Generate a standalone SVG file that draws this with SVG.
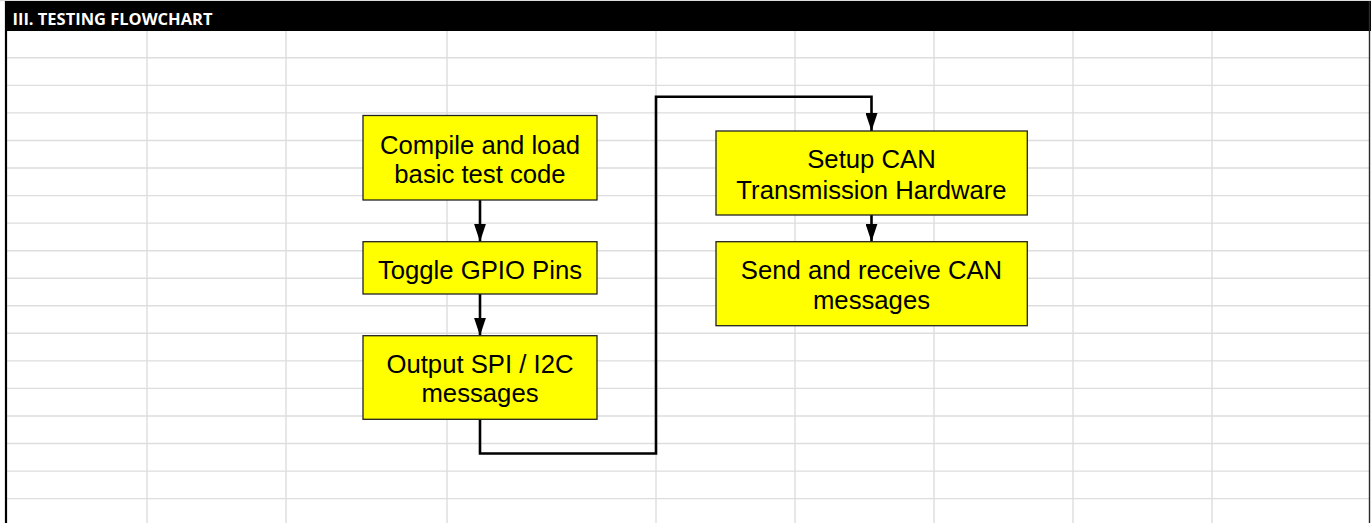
<svg xmlns="http://www.w3.org/2000/svg" width="1371" height="523" viewBox="0 0 1371 523">
<style>
.grid{stroke:#dddddd;stroke-width:1.4;fill:none}
.box{fill:#ffff00;stroke:#222222;stroke-width:1.3}
.lbl{font-family:"Liberation Sans",Arial,sans-serif;font-size:25.7px;fill:#000;text-anchor:middle}
.conn{stroke:#000;stroke-width:2.6;fill:none}
.hdr{font-family:"Open Sans","Liberation Sans",sans-serif;font-weight:bold;font-size:16.5px;fill:#fff}
</style>
<defs>
<marker id="ah" markerUnits="userSpaceOnUse" markerWidth="18" markerHeight="12" refX="18" refY="6" viewBox="0 0 18 12" orient="auto">
<path d="M0,0 L18,6 L0,12 Z" fill="#000"/>
</marker>
</defs>
<rect x="0" y="0" width="1371" height="523" fill="#ffffff"/>
<g id="grid">
<line class="grid" x1="0" y1="0.5" x2="1371" y2="0.5"/>
<g>
<line class="grid" x1="147" y1="31" x2="147" y2="523"/>
<line class="grid" x1="286" y1="31" x2="286" y2="523"/>
<line class="grid" x1="447" y1="31" x2="447" y2="523"/>
<line class="grid" x1="656" y1="31" x2="656" y2="523"/>
<line class="grid" x1="795" y1="31" x2="795" y2="523"/>
<line class="grid" x1="934" y1="31" x2="934" y2="523"/>
<line class="grid" x1="1073" y1="31" x2="1073" y2="523"/>
<line class="grid" x1="1212" y1="31" x2="1212" y2="523"/>
</g>
<g>
<line class="grid" x1="7" y1="57.8" x2="1369" y2="57.8"/>
<line class="grid" x1="7" y1="85.4" x2="1369" y2="85.4"/>
<line class="grid" x1="7" y1="112.9" x2="1369" y2="112.9"/>
<line class="grid" x1="7" y1="140.5" x2="1369" y2="140.5"/>
<line class="grid" x1="7" y1="168" x2="1369" y2="168"/>
<line class="grid" x1="7" y1="195.6" x2="1369" y2="195.6"/>
<line class="grid" x1="7" y1="223.1" x2="1369" y2="223.1"/>
<line class="grid" x1="7" y1="250.7" x2="1369" y2="250.7"/>
<line class="grid" x1="7" y1="278.2" x2="1369" y2="278.2"/>
<line class="grid" x1="7" y1="305.8" x2="1369" y2="305.8"/>
<line class="grid" x1="7" y1="333.3" x2="1369" y2="333.3"/>
<line class="grid" x1="7" y1="360.9" x2="1369" y2="360.9"/>
<line class="grid" x1="7" y1="388.4" x2="1369" y2="388.4"/>
<line class="grid" x1="7" y1="416" x2="1369" y2="416"/>
<line class="grid" x1="7" y1="443.5" x2="1369" y2="443.5"/>
<line class="grid" x1="7" y1="471.1" x2="1369" y2="471.1"/>
<line class="grid" x1="7" y1="498.6" x2="1369" y2="498.6"/>
</g>
</g>
<g id="frame">
<rect x="5" y="1" width="1366" height="30" fill="#000"/>
<line x1="6" y1="1" x2="6" y2="523" stroke="#000" stroke-width="2.2"/>
<line x1="1369.5" y1="1" x2="1369.5" y2="523" stroke="#2a2a2a" stroke-width="1.4"/>
<text class="hdr" x="12.5" y="25" textLength="200" lengthAdjust="spacingAndGlyphs">III. TESTING FLOWCHART</text>
</g>
<g id="connectors">
<line class="conn" x1="480" y1="200" x2="480" y2="241.7" marker-end="url(#ah)"/>
<line class="conn" x1="480" y1="294" x2="480" y2="335.7" marker-end="url(#ah)"/>
<polyline class="conn" points="480,419.3 480,453.5 656,453.5 656,96.8 871.5,96.8 871.5,131" marker-end="url(#ah)"/>
<line class="conn" x1="871.5" y1="215" x2="871.5" y2="241.7" marker-end="url(#ah)"/>
</g>
<g id="n1">
<rect class="box" x="363" y="115.5" width="234" height="84.5"/>
<text class="lbl" x="480" y="153.5">Compile and load</text>
<text class="lbl" x="480" y="183">basic test code</text>
</g>
<g id="n2">
<rect class="box" x="363" y="241.7" width="234" height="52.3"/>
<text class="lbl" x="480" y="278.5">Toggle GPIO Pins</text>
</g>
<g id="n3">
<rect class="box" x="363" y="335.7" width="234" height="83.6"/>
<text class="lbl" x="480" y="372.5">Output SPI / I2C</text>
<text class="lbl" x="480" y="402">messages</text>
</g>
<g id="n4">
<rect class="box" x="716" y="131" width="311.3" height="84"/>
<text class="lbl" x="871.5" y="168.3">Setup CAN</text>
<text class="lbl" x="871.5" y="199">Transmission Hardware</text>
</g>
<g id="n5">
<rect class="box" x="716" y="241.7" width="311.3" height="84"/>
<text class="lbl" x="871.5" y="279">Send and receive CAN</text>
<text class="lbl" x="871.5" y="309">messages</text>
</g>
</svg>
